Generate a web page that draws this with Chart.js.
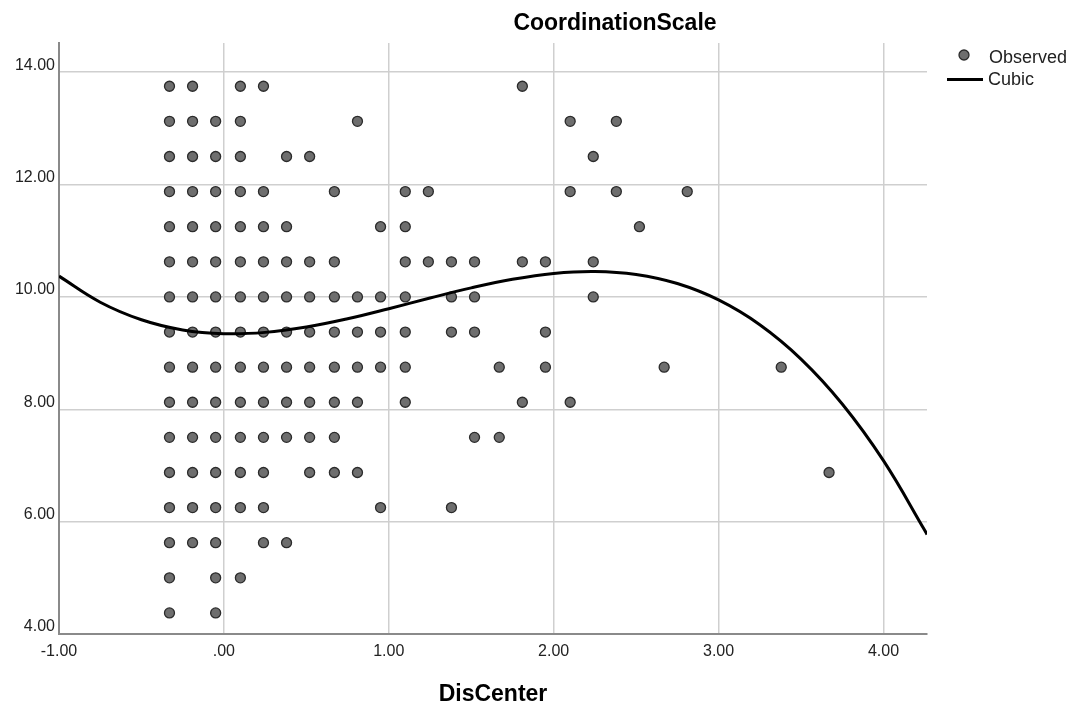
<!DOCTYPE html>
<html>
<head>
<meta charset="utf-8">
<script src="https://cdn.jsdelivr.net/npm/chart.js@4.4.1/dist/chart.umd.min.js"></script>
<style>
html,body{margin:0;padding:0;background:#fff;}
#wrap{width:1071px;height:708px;position:relative;}
</style>
</head>
<body>
<div id="wrap"><canvas id="c" width="1071" height="708"></canvas></div>
<script>
const chartTitle = 'CoordinationScale';
const xAxisTitle = 'DisCenter';
const seriesNames = ['Observed', 'Cubic'];
const xTickValues = [-1, 0, 1, 2, 3, 4];
const yTickValues = [4, 6, 8, 10, 12, 14];
const xRange = [-1, 4.264];
const yRange = [4, 14.52];

// Observed: DisCenter values found at each CoordinationScale level
const yLevels = [13.75, 13.125, 12.5, 11.875, 11.25, 10.625, 10, 9.375, 8.75, 8.125, 7.5, 6.875, 6.25, 5.625, 5, 4.375];
const x_13750 = [-0.33, -0.19, 0.10, 0.24, 1.81];
const x_13125 = [-0.33, -0.19, -0.05, 0.10, 0.81, 2.10, 2.38];
const x_12500 = [-0.33, -0.19, -0.05, 0.10, 0.38, 0.52, 2.24];
const x_11875 = [-0.33, -0.19, -0.05, 0.10, 0.24, 0.67, 1.10, 1.24, 2.10, 2.38, 2.81];
const x_11250 = [-0.33, -0.19, -0.05, 0.10, 0.24, 0.38, 0.95, 1.10, 2.52];
const x_10625 = [-0.33, -0.19, -0.05, 0.10, 0.24, 0.38, 0.52, 0.67, 1.10, 1.24, 1.38, 1.52, 1.81, 1.95, 2.24];
const x_10000 = [-0.33, -0.19, -0.05, 0.10, 0.24, 0.38, 0.52, 0.67, 0.81, 0.95, 1.10, 1.38, 1.52, 2.24];
const x_09375 = [-0.33, -0.19, -0.05, 0.10, 0.24, 0.38, 0.52, 0.67, 0.81, 0.95, 1.10, 1.38, 1.52, 1.95];
const x_08750 = [-0.33, -0.19, -0.05, 0.10, 0.24, 0.38, 0.52, 0.67, 0.81, 0.95, 1.10, 1.67, 1.95, 2.67, 3.38];
const x_08125 = [-0.33, -0.19, -0.05, 0.10, 0.24, 0.38, 0.52, 0.67, 0.81, 1.10, 1.81, 2.10];
const x_07500 = [-0.33, -0.19, -0.05, 0.10, 0.24, 0.38, 0.52, 0.67, 1.52, 1.67];
const x_06875 = [-0.33, -0.19, -0.05, 0.10, 0.24, 0.52, 0.67, 0.81, 3.67];
const x_06250 = [-0.33, -0.19, -0.05, 0.10, 0.24, 0.95, 1.38];
const x_05625 = [-0.33, -0.19, -0.05, 0.24, 0.38];
const x_05000 = [-0.33, -0.05, 0.10];
const x_04375 = [-0.33, -0.05];
const xByLevel = [x_13750, x_13125, x_12500, x_11875, x_11250, x_10625, x_10000, x_09375,
                  x_08750, x_08125, x_07500, x_06875, x_06250, x_05625, x_05000, x_04375];

// Cubic fit line
const cubicX = [-1, -0.75, -0.5, -0.25, 0, 0.25, 0.5, 0.75, 1, 1.25, 1.5, 1.75, 2, 2.25, 2.5, 2.75, 3, 3.25, 3.5, 3.75, 4, 4.25, 4.264];
const cubicY = [10.370, 9.906, 9.594, 9.413, 9.345, 9.369, 9.464, 9.611, 9.790, 9.980, 10.161, 10.314, 10.419, 10.454, 10.400, 10.238, 9.946, 9.505, 8.894, 8.095, 7.086, 5.847, 5.771];

const observedPoints = [];
yLevels.forEach((yv, i) => xByLevel[i].forEach(xv => observedPoints.push({x: xv, y: yv})));
const cubicPoints = cubicX.map((xv, i) => ({x: xv, y: cubicY[i]}));

const FONT = '"Liberation Sans", Arial, Helvetica, sans-serif';
const fmt = v => Number(v).toFixed(2).replace(/^(-?)0\./, '$1.');

const titlePlugin = {
  id: 'topTitle',
  afterDraw(chart) {
    const ctx = chart.ctx;
    ctx.save();
    ctx.font = 'bold 23px ' + FONT;
    ctx.fillStyle = '#000';
    ctx.textAlign = 'center';
    ctx.textBaseline = 'middle';
    ctx.fillText(chartTitle, 615, 24);
    ctx.restore();
  }
};

const legendPlugin = {
  id: 'sideLegend',
  afterDraw(chart) {
    const ctx = chart.ctx;
    const obs = chart.data.datasets[1];
    const cub = chart.data.datasets[0];
    ctx.save();
    ctx.beginPath();
    ctx.arc(964, 55, 5, 0, Math.PI * 2);
    ctx.fillStyle = obs.backgroundColor;
    ctx.fill();
    ctx.lineWidth = obs.borderWidth;
    ctx.strokeStyle = obs.borderColor;
    ctx.stroke();
    ctx.beginPath();
    ctx.moveTo(947, 79.5);
    ctx.lineTo(983, 79.5);
    ctx.lineWidth = cub.borderWidth;
    ctx.strokeStyle = cub.borderColor;
    ctx.stroke();
    ctx.font = '18px ' + FONT;
    ctx.fillStyle = '#222';
    ctx.textAlign = 'left';
    ctx.textBaseline = 'middle';
    ctx.fillText(obs.label, 989, 58);
    ctx.fillText(cub.label, 988, 80);
    ctx.restore();
  }
};

new Chart(document.getElementById('c'), {
  type: 'scatter',
  data: {
    datasets: [
      {
        label: seriesNames[1],
        data: cubicPoints,
        showLine: true,
        borderColor: '#000',
        borderWidth: 3,
        pointRadius: 0,
        pointHoverRadius: 0,
        tension: 0.4,
        fill: false,
        order: 0
      },
      {
        label: seriesNames[0],
        data: observedPoints,
        pointRadius: 5,
        pointHoverRadius: 5,
        backgroundColor: '#6e6e6e',
        borderColor: '#2b2b2b',
        borderWidth: 1.3,
        order: 1
      }
    ]
  },
  options: {
    responsive: false,
    maintainAspectRatio: false,
    animation: false,
    events: [],
    layout: {padding: {top: 43, right: 144, bottom: 0, left: 0}},
    plugins: {
      legend: {display: false},
      tooltip: {enabled: false},
      title: {display: false}
    },
    scales: {
      x: {
        type: 'linear',
        min: xRange[0],
        max: xRange[1],
        afterBuildTicks: s => { s.ticks = xTickValues.map(v => ({value: v})); },
        afterFit: s => { s.height = 74; },
        grid: {color: '#cfcfcf', lineWidth: 1.5, drawTicks: false},
        border: {color: '#8a8a8a', width: 2},
        ticks: {
          padding: 8,
          color: '#222',
          font: {family: FONT, size: 16},
          maxRotation: 0,
          autoSkip: false,
          callback: v => fmt(v)
        },
        title: {
          display: true,
          text: xAxisTitle,
          color: '#000',
          font: {family: FONT, size: 23, weight: 'bold'},
          padding: {top: 0, bottom: 0}
        }
      },
      y: {
        type: 'linear',
        min: yRange[0],
        max: yRange[1],
        afterBuildTicks: s => { s.ticks = yTickValues.map(v => ({value: v})); },
        afterFit: s => { s.width = 59; },
        grid: {color: '#cfcfcf', lineWidth: 1.5, drawTicks: false},
        border: {color: '#8a8a8a', width: 2},
        ticks: {
          padding: 4,
          labelOffset: -7,
          color: '#222',
          font: {family: FONT, size: 16},
          autoSkip: false,
          callback: v => fmt(v)
        }
      }
    }
  },
  plugins: [titlePlugin, legendPlugin]
});
</script>
</body>
</html>
